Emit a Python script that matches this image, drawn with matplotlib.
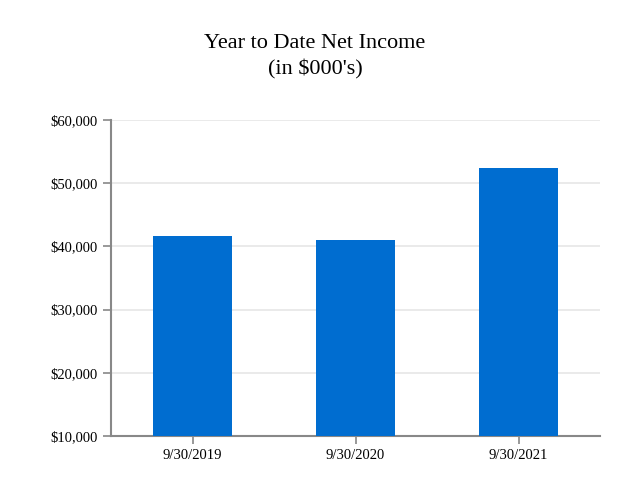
import matplotlib
matplotlib.use("Agg")
import matplotlib.pyplot as plt

categories = ["9/30/2019", "9/30/2020", "9/30/2021"]
values = [41650, 41000, 52400]
yticks = [10000, 20000, 30000, 40000, 50000, 60000]

plt.rcParams['font.family'] = ['Liberation Serif', 'DejaVu Serif']
fig = plt.figure(figsize=(6.3, 5.0), dpi=100)
ax = fig.add_axes([111/630, 1-436/500, 489/630, 316/500])
x = range(len(categories))
ax.bar(x, [v - 10000 for v in values], bottom=10000, width=0.49, color="#006dd0", zorder=3)
ax.set_xlim(-0.5, 2.5)
ax.set_ylim(10000, 60000)
ax.set_yticks(yticks)
ax.set_yticklabels([f"${v:,}" for v in yticks], fontsize=10.5)
ax.set_xticks(list(x))
ax.set_xticklabels(categories, fontsize=10.5)
ax.grid(axis='y', color="#e6e6e6", linewidth=1.2, zorder=0)
for s in ["top", "right"]:
    ax.spines[s].set_visible(False)
for s in ["left", "bottom"]:
    ax.spines[s].set_color("#888888")
    ax.spines[s].set_linewidth(1.5)
ax.tick_params(colors="#888888", labelcolor="black", length=6, width=1.2)
fig.text(0.5, 1-57/500, "Year to Date Net Income\n(in $000's)", ha="center", va="center",
         fontsize=16, linespacing=1.4)
fig.savefig("out.png")
